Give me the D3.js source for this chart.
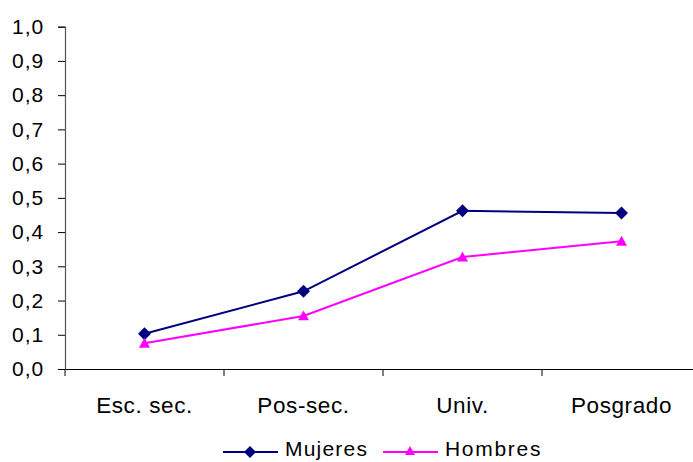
<!DOCTYPE html>
<html><head><meta charset="utf-8">
<script src="https://cdn.jsdelivr.net/npm/d3@7"></script>
<style>body{margin:0;background:#fff;}svg{display:block;font-family:"Liberation Sans",Arial,sans-serif;}</style>
</head><body>
<svg id="c" width="693" height="462"></svg>
<script>
const categories = ["Esc. sec.", "Pos-sec.", "Univ.", "Posgrado"];
const mujeres = [0.103, 0.227, 0.462, 0.456];
const hombres = [0.075, 0.155, 0.327, 0.373];
const yTicks = [0,0.1,0.2,0.3,0.4,0.5,0.6,0.7,0.8,0.9,1.0];

const svg = d3.select("#c");
const x = d3.scaleBand().domain(categories).range([65, 701]);
const y = d3.scaleLinear().domain([0, 1]).range([369, 26.7]);
const fmt = d => d.toFixed(1).replace(".", ",");

// Y axis
const ya = svg.append("g").attr("transform","translate(65,0)")
  .call(d3.axisLeft(y).tickValues(yTicks).tickFormat(fmt).tickSize(7).tickPadding(14));
ya.select(".domain").attr("stroke","#555").attr("stroke-width",1.2);
ya.selectAll(".tick line").attr("stroke","#000");
ya.selectAll("text").attr("font-size",21).attr("letter-spacing",0.9).attr("fill","#000").attr("font-family","Liberation Sans, Arial, sans-serif");

// X axis
const xa = svg.append("g").attr("transform","translate(0,369)")
  .call(d3.axisBottom(x).tickSize(0).tickPadding(28));
xa.select(".domain").attr("stroke","#000").attr("stroke-width",1.2);
xa.selectAll("text").attr("font-size",22.5).attr("letter-spacing",0.6).attr("fill","#000").attr("font-family","Liberation Sans, Arial, sans-serif");
// boundary tick marks
const bounds = categories.map(c => x(c));
svg.append("g").selectAll("line").data(bounds).join("line")
  .attr("x1", d => d).attr("x2", d => d).attr("y1", 369).attr("y2", 376)
  .attr("stroke","#000").attr("stroke-width",1);

const cx = c => x(c) + x.bandwidth()/2;
const line = d3.line().x((d,i) => cx(categories[i])).y(d => y(d));

function diamond(g, px, py, s, col){
  g.append("path").attr("d", `M${px},${py-s}L${px+s},${py}L${px},${py+s}L${px-s},${py}Z`).attr("fill", col);
}
function triangle(g, px, py, s, col){
  g.append("path").attr("d", `M${px},${py-s}L${px+s},${py+s*0.8}L${px-s},${py+s*0.8}Z`).attr("fill", col);
}

svg.append("path").datum(hombres).attr("d", line).attr("fill","none").attr("stroke","#FF00FF").attr("stroke-width",2);
svg.append("path").datum(mujeres).attr("d", line).attr("fill","none").attr("stroke","#000080").attr("stroke-width",2);
const mg = svg.append("g");
mujeres.forEach((v,i) => diamond(mg, cx(categories[i]), y(v), 6.5, "#000080"));
const hg = svg.append("g");
hombres.forEach((v,i) => triangle(hg, cx(categories[i]), y(v), 5.5, "#FF00FF"));

// Legend
const lg = svg.append("g");
lg.append("line").attr("x1",223).attr("x2",278).attr("y1",452).attr("y2",452).attr("stroke","#000080").attr("stroke-width",2);
diamond(lg, 250, 452, 6, "#000080");
lg.append("text").attr("x",285).attr("y",456).attr("font-size",21).attr("letter-spacing",1.2).text("Mujeres");
lg.append("line").attr("x1",383).attr("x2",438).attr("y1",452).attr("y2",452).attr("stroke","#FF00FF").attr("stroke-width",2);
triangle(lg, 410, 451, 5, "#FF00FF");
lg.append("text").attr("x",445).attr("y",456).attr("font-size",21).attr("letter-spacing",1.7).text("Hombres");
</script>
</body></html>
